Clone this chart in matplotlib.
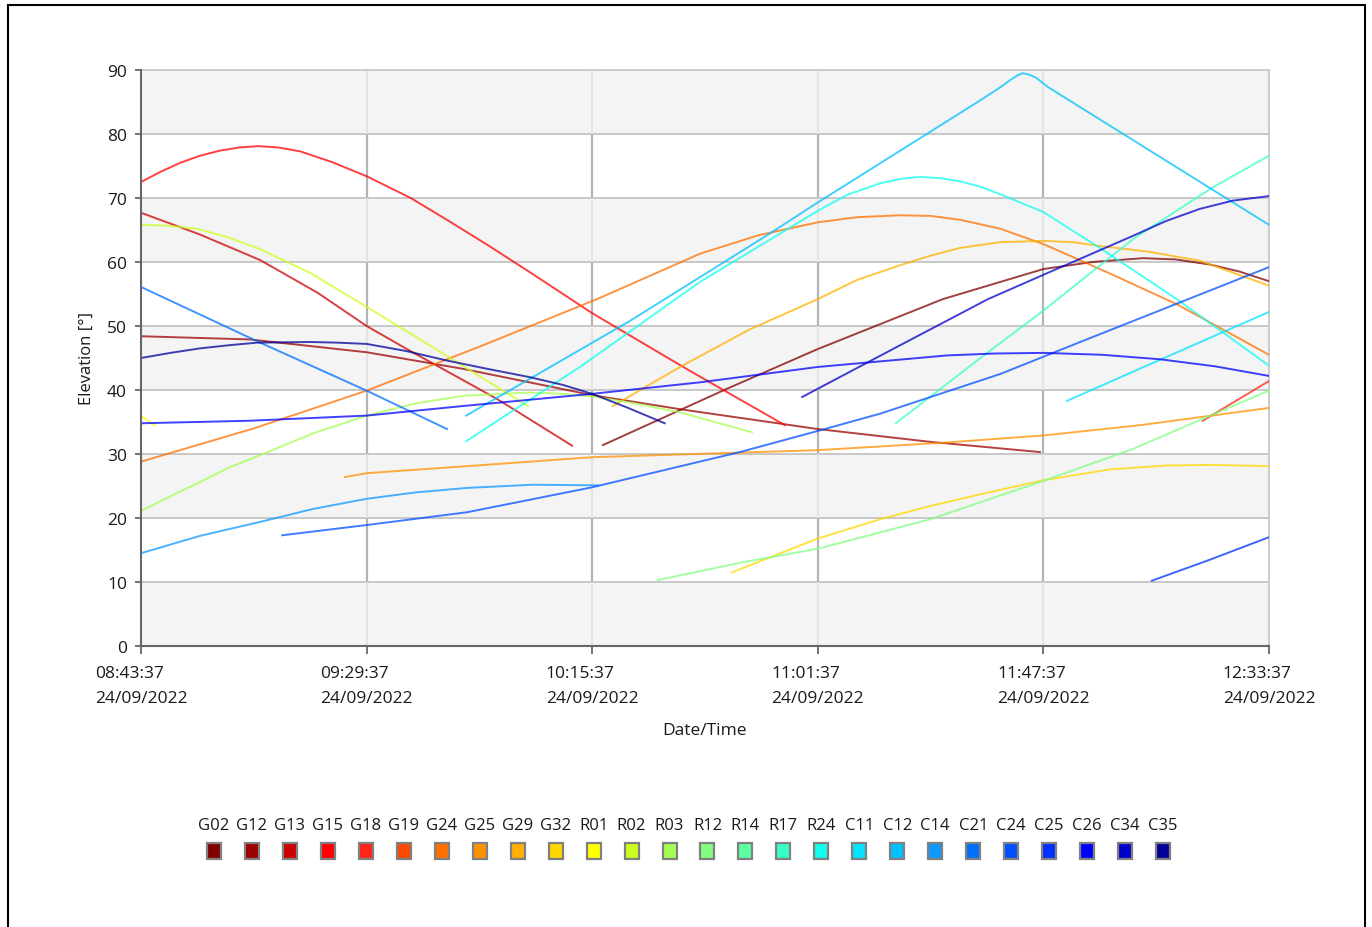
import datetime as dt
import matplotlib
matplotlib.use("Agg")
import matplotlib.pyplot as plt
import matplotlib.dates as mdates
from matplotlib.patches import Rectangle

W, H = 1372, 928
START = dt.datetime(2022, 9, 24, 8, 43, 37)
SPAN = 230  # minutes on the x axis
TICK_STEP = 46

names = ["G02", "G12", "G13", "G15", "G18", "G19", "G24", "G25", "G29", "G32",
         "R01", "R02", "R03", "R12", "R14", "R17", "R24",
         "C11", "C12", "C14", "C21", "C24", "C25", "C26", "C34", "C35"]
colors = ["#800000", "#9c0000", "#cc0000", "#ff0000", "#ff2418", "#ff4800",
          "#ff7000", "#ff9000", "#ffb000", "#ffd800", "#ffff00", "#ccff20",
          "#a4ff50", "#80ff80", "#5cffa0", "#38ffc8", "#10ffee", "#00e4ff",
          "#00c0ff", "#1098ff", "#0070ff", "#0050ff", "#0030ff", "#0000ff",
          "#0000cc", "#000099"]

# (minutes after 08:43:37, elevation in degrees)
G02 = [(94.2, 31.4), (119.5, 40.2), (138, 46.4), (163.5, 54.2), (184, 58.9),
       (194, 60.0), (204.3, 60.6), (211, 60.4), (218, 59.6), (224, 58.5), (230, 57.0)]
G12 = [(0, 48.4), (22.2, 47.9), (46, 45.9), (65.7, 43.3), (92, 39.2),
       (109.9, 37.0), (138, 33.9), (160.9, 31.9), (183.3, 30.3)]
G13 = [(0, 67.7), (12, 64.3), (24.3, 60.3), (36, 55.2), (46, 50.0), (54.2, 46.4),
       (72.6, 38.6), (87.9, 31.3)]
G15 = [(0, 72.5), (4, 74.1), (8, 75.5), (12, 76.6), (16.1, 77.4), (20, 77.9),
       (23.9, 78.1), (28, 77.9), (32.4, 77.3), (39, 75.6), (46, 73.4), (55, 70.0),
       (63, 66.3), (71, 62.5), (79.3, 58.4), (92, 52.0), (111.9, 43.0), (131.3, 34.5)]
G18 = [(216.5, 35.2), (230, 41.4)]
G19 = []
G24 = [(0, 28.8), (23, 34.0), (46, 39.9), (69.1, 46.8), (93, 54.2), (114, 61.3),
       (126, 64.2), (138, 66.2), (146, 67.0), (154.8, 67.3), (161, 67.2),
       (167, 66.6), (175.2, 65.2), (184, 62.8), (197, 58.4), (211.2, 53.4), (230, 45.5)]
G25 = [(41.6, 26.4), (46, 27.0), (66.5, 28.1), (92, 29.5), (138, 30.6),
       (164.3, 31.8), (184, 32.9), (203.7, 34.5), (230, 37.2)]
G29 = [(96.2, 37.5), (109.9, 43.6), (124.2, 49.5), (138, 54.2), (146, 57.2),
       (154.8, 59.5), (161, 61.0), (167, 62.2), (175.2, 63.1), (184, 63.3),
       (190, 63.1), (195.5, 62.5), (205.5, 61.6), (215.9, 60.2), (230, 56.3)]
G32 = [(120.5, 11.5), (138, 16.8), (150.7, 19.8), (160, 21.7), (171.1, 23.7),
       (184, 25.9), (197.6, 27.6), (209.2, 28.2), (218, 28.3), (230, 28.1)]
R01 = [(0, 36.0), (2.7, 34.5)]
R02 = [(0, 65.8), (5, 65.7), (11.4, 65.2), (18, 63.8), (24.3, 62.0), (34.5, 58.3),
       (46, 53.0), (62.4, 45.3), (78.9, 37.5)]
R03 = [(0, 21.1), (6, 23.4), (12, 25.6), (18, 27.9), (24.9, 30.0), (35, 33.2),
       (46, 36.0), (56, 37.9), (65.7, 39.1), (79.3, 39.6), (86, 39.4), (92, 39.0),
       (100, 38.0), (109.9, 36.5), (117, 35.0), (124.6, 33.4)]
R12 = [(105.4, 10.3), (122.1, 13.0), (138, 15.2), (160.9, 19.8), (184, 25.8),
       (202.3, 30.8), (215.9, 35.3), (230, 39.9)]
R14 = []
R17 = [(153.9, 34.8), (172.7, 45.9), (184, 52.4), (202.3, 63.6), (218.6, 71.7),
       (230, 76.6)]
R24 = [(66.3, 32.0), (89.5, 43.6), (114, 56.9), (138, 68.0), (144, 70.5),
       (150.7, 72.3), (155, 73.0), (158.8, 73.3), (163, 73.1), (167, 72.6),
       (171, 71.8), (175.2, 70.6), (184, 67.8), (195.5, 62.2), (211.2, 54.2),
       (230, 43.8)]
C11 = [(188.8, 38.3), (209.8, 45.4), (230, 52.2)]
C12 = [(66.3, 36.0), (99.7, 50.8), (127.7, 64.2), (138, 69.3), (171, 85.2),
       (175.2, 87.3), (177.2, 88.4), (178.8, 89.2), (179.8, 89.5), (181, 89.3),
       (182.5, 88.8), (185, 87.3), (230, 65.8)]
C14 = [(0, 14.5), (12, 17.2), (24.9, 19.5), (35, 21.4), (46, 23.0), (56, 24.0),
       (66.5, 24.7), (79.9, 25.2), (93.2, 25.1)]
C21 = [(0, 56.1), (24.3, 47.4), (46, 39.9), (62.4, 33.9)]
C24 = [(28.8, 17.3), (46, 18.9), (66.5, 20.9), (92, 24.8), (122.1, 30.3),
       (138, 33.6), (150.7, 36.3), (175.2, 42.5), (191.5, 47.5), (230, 59.2)]
C25 = [(206.1, 10.2), (218, 13.5), (230, 17.0)]
C26 = [(0, 34.8), (22.2, 35.2), (46, 36.0), (65.7, 37.5), (92, 39.4),
       (114, 41.2), (138, 43.6), (164.3, 45.4), (174, 45.7), (184, 45.8),
       (196, 45.5), (207.8, 44.8), (219, 43.7), (230, 42.2)]
C34 = [(134.8, 38.9), (154.8, 47.0), (172.7, 54.2), (184, 58.0), (202.3, 64.1),
       (209, 66.4), (215.9, 68.3), (222.7, 69.6), (230, 70.3)]
C35 = [(0, 45.0), (6, 45.8), (12, 46.5), (18, 47.0), (23.7, 47.4), (34.5, 47.5),
       (40, 47.4), (46, 47.2), (54, 46.1), (62.4, 44.6), (70, 43.4), (79.3, 42.0),
       (86, 40.8), (92, 39.4), (99, 37.3), (106.8, 34.8)]

series = [G02, G12, G13, G15, G18, G19, G24, G25, G29, G32,
          R01, R02, R03, R12, R14, R17, R24,
          C11, C12, C14, C21, C24, C25, C26, C34, C35]

plt.rcParams["font.family"] = ["Open Sans", "DejaVu Sans"]
text_col = "#1a1a1a"

fig = plt.figure(figsize=(W / 100, H / 100), dpi=100)
ax = fig.add_axes([141 / W, 1 - 647 / H, (1269 - 141) / W, (647 - 71) / H])

def tm(m):
    return START + dt.timedelta(minutes=m)

x0 = mdates.date2num(tm(0))
x1 = mdates.date2num(tm(SPAN))
ax.set_xlim(x0, x1)
ax.set_ylim(0, 90)

# alternating bands
for lo in range(0, 90, 20):
    ax.axhspan(lo, lo + 10, color="#f4f4f4", lw=0, zorder=0)

# horizontal grid
for y in range(10, 90, 10):
    ax.axhline(y, color="#c4c4c4", lw=1.3, zorder=1)

# vertical grid, darker on white bands, lighter on grey bands
for k in range(1, SPAN // TICK_STEP):
    xv = mdates.date2num(tm(k * TICK_STEP))
    for lo in range(0, 90, 10):
        c = "#e4e4e4" if (lo // 10) % 2 == 0 else "#b4b4b4"
        ax.plot([xv, xv], [lo, lo + 10], color=c, lw=1.6, zorder=1,
                solid_capstyle="butt")

for name, col, pts in zip(names, colors, series):
    if not pts:
        continue
    t = [tm(m) for m, e in pts]
    e = [e for m, e in pts]
    ax.plot(t, e, color=col, lw=1.4, alpha=0.75, zorder=3)

ax.set_xticks([mdates.date2num(tm(k * TICK_STEP)) for k in range(SPAN // TICK_STEP + 1)])
ax.xaxis.set_major_formatter(mdates.DateFormatter("%H:%M:%S\n%d/%m/%Y"))
ax.set_yticks(range(0, 91, 10))

for s in ["top", "right"]:
    ax.spines[s].set_color("#c8c8c8")
    ax.spines[s].set_linewidth(1.3)
for s in ["left", "bottom"]:
    ax.spines[s].set_color("#666666")
    ax.spines[s].set_linewidth(1.5)
    ax.spines[s].set_zorder(4)

ax.tick_params(axis="y", length=4.5, width=1.3, color="#666666", pad=5.5,
               labelsize=12.5, labelcolor=text_col)
ax.tick_params(axis="x", length=6, width=1.3, color="#666666", pad=8,
               labelsize=12.5, labelcolor=text_col)
plt.setp(ax.get_xticklabels(), linespacing=1.75, multialignment="left")

ax.set_ylabel("Elevation [°]", fontsize=12, color=text_col, labelpad=9)
ax.set_xlabel("Date/Time", fontsize=12.5, color=text_col, labelpad=11)

# legend: label above a square swatch
for i, (name, col) in enumerate(zip(names, colors)):
    cx = (214 + 37.96 * i) / W
    fig.text(cx, 1 - 826 / H, name, ha="center", va="center",
             fontsize=12, color=text_col)
    fig.add_artist(Rectangle((cx - 7 / W, 1 - 860 / H), 14 / W, 16 / H,
                             transform=fig.transFigure, facecolor=col,
                             edgecolor="#808080", lw=1.6))

# outer frame
fig.add_artist(Rectangle((8 / W, -0.05), (1365 - 8) / W, 1.05 - 6 / H,
                         transform=fig.transFigure, fill=False,
                         edgecolor="black", lw=1.5))

fig.savefig("out.png", dpi=100)
